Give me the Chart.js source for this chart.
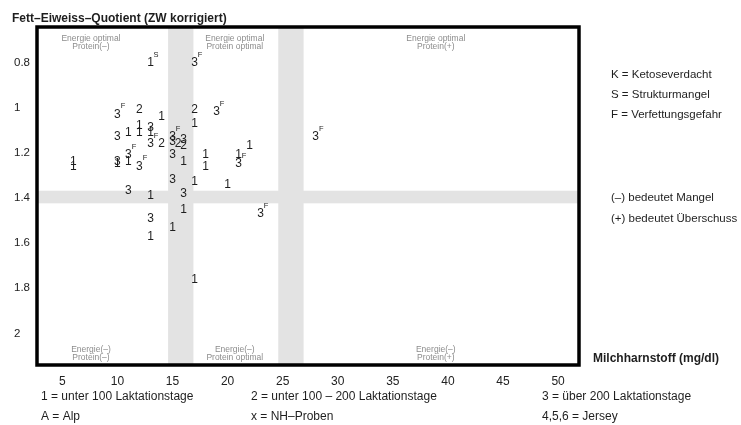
<!DOCTYPE html>
<html><head><meta charset="utf-8">
<script src="https://cdn.jsdelivr.net/npm/chart.js@4/dist/chart.umd.min.js"></script>
<style>html,body{margin:0;padding:0;background:#fff;}#wrap{position:relative;width:741px;height:425px;}</style>
</head><body><div id="wrap"><canvas id="c" width="741" height="425"></canvas></div>
<script>
// ---- data ----
const xTicks = [5, 10, 15, 20, 25, 30, 35, 40, 45, 50];
const yTicks = [0.8, 1, 1.2, 1.4, 1.6, 1.8, 2];
// Milchharnstoff (mg/dl)
const milchharnstoff = [13,17,10,12,14,17,19,17,10,11, 12,12,13,13,13,14,15,16,15,15.5, 16,15,16,18,18,21,21,22,28,6, 6,10,10,11,11,12,15,17,20,11, 13,16,16,23,13,15,13,17];
// Fett-Eiweiss-Quotient
const quotient = [0.80,0.80,1.03,1.01,1.04,1.01,1.02,1.07,1.13,1.11, 1.08,1.11,1.09,1.11,1.16,1.16,1.13,1.14,1.15,1.16, 1.17,1.21,1.24,1.21,1.26,1.21,1.25,1.17,1.13,1.24, 1.26,1.24,1.25,1.21,1.24,1.26,1.32,1.33,1.34,1.37, 1.39,1.38,1.45,1.47,1.49,1.53,1.57,1.76];
// Laktationsgruppe
const gruppe = ['1','3','3','2','1','2','3','1','3','1', '1','1','3','1','3','2','3','3','3','2', '2','3','1','1','1','1','3','1','3','1', '1','3','1','3','1','3','3','1','1','3', '1','3','1','3','3','1','1','1'];
// Hinweis (S = Strukturmangel, F = Verfettungsgefahr)
const hinweis = ['S','F','F','','','','F','','','', '','','','','F','','F','','','', '','','','','','','F','','F','', '','','','F','','F','','','','', '','','','F','','','',''];
// grey reference bands
const bandX = [[14.6, 16.9], [24.6, 26.9]];
const bandY = [[1.368, 1.424]];

const FONT = '"Liberation Sans", Arial, sans-serif';

const zonesTop = [[7.6, 'Energie optimal', 'Protein(–)'], [20.65, 'Energie optimal', 'Protein optimal'], [38.9, 'Energie optimal', 'Protein(+)']];
const zonesBottom = [[7.6, 'Energie(–)', 'Protein(–)'], [20.65, 'Energie(–)', 'Protein optimal'], [38.9, 'Energie(–)', 'Protein(+)']];

const decor = {
  id: 'decor',
  beforeDatasetsDraw(chart) {
    const {ctx, chartArea: a, scales: {x, y}} = chart;
    ctx.save();
    ctx.fillStyle = '#e3e3e3';
    bandX.forEach(([s, e]) => {
      const p1 = x.getPixelForValue(s), p2 = x.getPixelForValue(e);
      ctx.fillRect(p1, a.top, p2 - p1, a.bottom - a.top);
    });
    bandY.forEach(([s, e]) => {
      const p1 = y.getPixelForValue(s), p2 = y.getPixelForValue(e);
      ctx.fillRect(a.left, p1, a.right - a.left, p2 - p1);
    });
    // zone captions
    ctx.fillStyle = '#8c8c8c';
    ctx.font = '8.5px ' + FONT;
    ctx.textAlign = 'center';
    ctx.textBaseline = 'middle';
    zonesTop.forEach(([v, l1, l2]) => {
      const px = x.getPixelForValue(v);
      ctx.fillText(l1, px, a.top + 12);
      ctx.fillText(l2, px, a.top + 20);
    });
    zonesBottom.forEach(([v, l1, l2]) => {
      const px = x.getPixelForValue(v);
      ctx.fillText(l1, px, a.bottom - 15);
      ctx.fillText(l2, px, a.bottom - 7);
    });
    ctx.restore();
  },
  afterDatasetsDraw(chart) {
    const {ctx} = chart;
    const meta = chart.getDatasetMeta(0);
    ctx.save();
    ctx.fillStyle = '#1e1e1e';
    ctx.textAlign = 'center';
    ctx.textBaseline = 'middle';
    meta.data.forEach((pt, i) => {
      ctx.font = '12px ' + FONT;
      ctx.fillText(gruppe[i], pt.x, pt.y);
      if (hinweis[i]) {
        ctx.font = '7.5px ' + FONT;
        ctx.fillText(hinweis[i], pt.x + 5.5, pt.y - 8);
      }
    });
    ctx.restore();
  },
  afterDraw(chart) {
    const {ctx, chartArea: a} = chart;
    ctx.save();
    ctx.strokeStyle = '#000';
    ctx.lineWidth = 3.5;
    ctx.strokeRect(a.left, a.top, a.right - a.left, a.bottom - a.top);
    ctx.fillStyle = '#1e1e1e';
    ctx.textBaseline = 'middle';
    ctx.textAlign = 'left';
    ctx.font = 'bold 12px ' + FONT;
    ctx.fillText('Fett–Eiweiss–Quotient (ZW korrigiert)', 12, 19);
    ctx.fillText('Milchharnstoff (mg/dl)', 593, 359);
    ctx.font = '11.5px ' + FONT;
    ctx.fillText('K = Ketoseverdacht', 611, 75);
    ctx.fillText('S = Strukturmangel', 611, 95);
    ctx.fillText('F = Verfettungsgefahr', 611, 115);
    ctx.fillText('(–) bedeutet Mangel', 611, 198);
    ctx.fillText('(+) bedeutet Überschuss', 611, 219);
    ctx.font = '12px ' + FONT;
    ctx.fillText('1 = unter 100 Laktationstage', 41, 397);
    ctx.fillText('2 = unter 100 – 200 Laktationstage', 251, 397);
    ctx.fillText('3 = über 200 Laktationstage', 542, 397);
    ctx.fillText('A = Alp', 41, 417);
    ctx.fillText('x = NH–Proben', 251, 417);
    ctx.fillText('4,5,6 = Jersey', 542, 417);
    ctx.restore();
  }
};

new Chart(document.getElementById('c'), {
  type: 'scatter',
  data: {
    datasets: [{
      data: milchharnstoff.map((v, i) => ({x: v, y: quotient[i]})),
      pointRadius: 0,
      pointHoverRadius: 0
    }]
  },
  options: {
    responsive: false,
    animation: false,
    events: [],
    layout: {padding: {left: 14, top: 27, right: 162, bottom: 0}},
    plugins: {legend: {display: false}, tooltip: {enabled: false}},
    scales: {
      x: {
        type: 'linear', min: 2.7, max: 51.9,
        grid: {display: false, drawTicks: false}, border: {display: false},
        ticks: {font: {size: 12, family: FONT}, color: '#222', padding: 9, maxRotation: 0, autoSkip: false},
        afterBuildTicks: s => { s.ticks = xTicks.map(v => ({value: v})); },
        afterFit: s => { s.height = 60; }
      },
      y: {
        type: 'linear', reverse: true, min: 0.643, max: 2.14,
        grid: {display: false, drawTicks: false}, border: {display: false},
        ticks: {font: {size: 11.5, family: FONT}, color: '#222', crossAlign: 'far', autoSkip: false,
          callback: v => String(Math.round(v * 10) / 10)},
        afterBuildTicks: s => { s.ticks = yTicks.map(v => ({value: v})); },
        afterFit: s => { s.width = 23; }
      }
    }
  },
  plugins: [decor]
});
</script></body></html>
